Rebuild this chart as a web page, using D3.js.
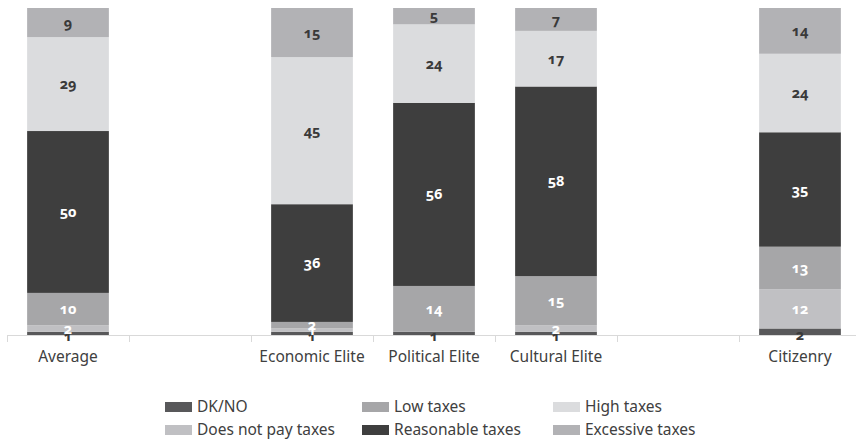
<!DOCTYPE html>
<html>
<head>
<meta charset="utf-8">
<script src="https://cdn.jsdelivr.net/npm/d3@7"></script>
<style>
  html, body { margin: 0; padding: 0; background: #fff; }
  svg { display: block; }
  .cat { font-family: "Noto Sans", "Open Sans", sans-serif; font-size: 15.5px; fill: #404040; }
  .leg { font-family: "Noto Sans", "Open Sans", sans-serif; font-size: 15.5px; fill: #404040; }
  .val { font-family: "Open Sans", "Lato", sans-serif; font-weight: 700; font-size: 14.5px;
         font-variant-numeric: oldstyle-nums; font-feature-settings: "onum" 1; }
</style>
</head>
<body>
<svg id="chart" width="856" height="441"></svg>
<script>
// Groups along the x axis (two empty slots separate the groups)
const categories = ["Average", "gap1", "Economic Elite", "Political Elite", "Cultural Elite", "gap2", "Citizenry"];
const categoryLabels = ["Average", "", "Economic Elite", "Political Elite", "Cultural Elite", "", "Citizenry"];

// Answer shares (%) per group, bottom to top of each bar
const seriesNames = ["DK/NO", "Does not pay taxes", "Low taxes", "Reasonable taxes", "High taxes", "Excessive taxes"];
const dkno        = [1, null, 1, 1, 1, null, 2];
const doesNotPay  = [2, null, 1, 0, 2, null, 12];
const lowTaxes    = [10, null, 2, 14, 15, null, 13];
const reasonable  = [50, null, 36, 56, 58, null, 35];
const highTaxes   = [29, null, 45, 24, 17, null, 24];
const excessive   = [9, null, 15, 5, 7, null, 14];

const seriesValues = [dkno, doesNotPay, lowTaxes, reasonable, highTaxes, excessive];
const colors = ["#58585a", "#c0c0c3", "#a6a6a8", "#3e3e3e", "#dbdcde", "#b2b2b5"];
const labelColors = ["#3a3a3a", "#ffffff", "#ffffff", "#ffffff", "#3a3a3a", "#3a3a3a"];

// Rows for d3.stack
const rows = categories.map((c, i) => {
  const r = { cat: c };
  seriesNames.forEach((s, k) => { r[s] = seriesValues[k][i] || 0; });
  return r;
});

const svg = d3.select("#chart");

const x = d3.scaleBand()
  .domain(categories)
  .range([7, 861])
  .paddingInner(0.33)
  .paddingOuter(0.165);

const y = d3.scaleLinear().domain([0, 1]).range([335, 8]);

const stacked = d3.stack()
  .keys(seriesNames)
  .offset(d3.stackOffsetExpand)(rows);

// Bars
const layers = svg.append("g").selectAll("g")
  .data(stacked)
  .join("g")
  .attr("fill", (d, i) => colors[i]);

layers.selectAll("rect")
  .data(d => d.filter(p => p.data[d.key] > 0))
  .join("rect")
  .attr("x", p => x(p.data.cat))
  .attr("width", x.bandwidth())
  .attr("y", p => y(p[1]))
  .attr("height", p => y(p[0]) - y(p[1]));

// Axis line, boundary ticks and category labels
const axisG = svg.append("g");
axisG.append("line")
  .attr("x1", 7).attr("x2", 856)
  .attr("y1", 335.5).attr("y2", 335.5)
  .attr("stroke", "#d9d9d9").attr("stroke-width", 1);

const step = x.step();
const bounds = categories.map(c => x(c) - (step - x.bandwidth()) / 2);
axisG.selectAll("line.tick")
  .data(bounds)
  .join("line")
  .attr("class", "tick")
  .attr("x1", d => Math.round(d) + 0.5).attr("x2", d => Math.round(d) + 0.5)
  .attr("y1", 335).attr("y2", 342)
  .attr("stroke", "#d9d9d9");

axisG.selectAll("text.cat")
  .data(categories)
  .join("text")
  .attr("class", "cat")
  .attr("x", c => x(c) + x.bandwidth() / 2)
  .attr("y", 362)
  .attr("text-anchor", "middle")
  .text((c, i) => categoryLabels[i]);

// Value labels, centred on their segment (DK/NO hangs just under the bar)
const labels = svg.append("g");
stacked.forEach((layer, k) => {
  labels.selectAll(null)
    .data(layer.filter(p => p.data[layer.key] > 0))
    .join("text")
    .attr("class", "val")
    .attr("x", p => x(p.data.cat) + x.bandwidth() / 2)
    .attr("y", p => (y(p[0]) + y(p[1])) / 2 + (k === 0 ? 3 : 0))
    .attr("dy", "0.35em")
    .attr("text-anchor", "middle")
    .attr("fill", labelColors[k])
    .text(p => p.data[layer.key]);
});

// Legend: three columns, two rows
const legendOrder = [0, 2, 4, 1, 3, 5];
const colX = [165, 362, 553];
const rowY = [407, 430];
const legend = svg.append("g");
legendOrder.forEach((k, pos) => {
  const col = pos % 3, row = Math.floor(pos / 3);
  const g = legend.append("g").attr("transform", `translate(${colX[col]},${rowY[row]})`);
  g.append("rect").attr("x", 0).attr("y", -5).attr("width", 27).attr("height", 10).attr("fill", colors[k]);
  g.append("text").attr("class", "leg").attr("x", 32).attr("y", 0).attr("dy", "0.35em").text(seriesNames[k]);
});
</script>
</body>
</html>
